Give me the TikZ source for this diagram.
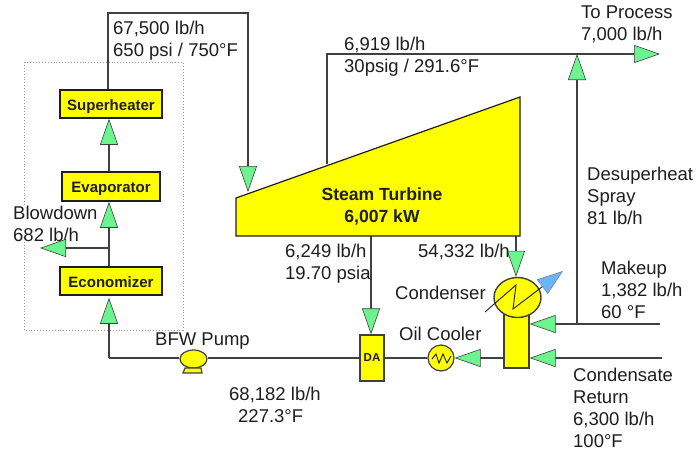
\documentclass[tikz,border=0pt]{standalone}
\usepackage{fontspec}
\setmainfont{Liberation Sans}
\usetikzlibrary{arrows.meta,calc,shapes.geometric}
\definecolor{pipe}{HTML}{404040}
\definecolor{ink}{HTML}{1E1E1E}
\definecolor{tipgreen}{HTML}{6CF58E}
\definecolor{tipblue}{HTML}{6AB4FA}
\definecolor{equip}{HTML}{FFFF00}
\tikzset{
  pipeline/.style={draw=pipe,line width=1.4pt,-{Triangle[length=26pt,width=18pt,fill=tipgreen,line width=0.6pt]}},
  plainpipe/.style={draw=pipe,line width=1.4pt},
  boxed/.style={draw=ink,fill=equip,line width=1.6pt,inner sep=0pt,text=ink,text height=13pt,text depth=0.2pt,font=\fontsize{15}{18}\selectfont\bfseries},
  vessel/.style={draw=pipe,fill=equip,line width=1.2pt,inner sep=0pt},
  lab/.style={anchor=west,inner sep=0pt,align=left,text=ink,font=\fontsize{18.5}{22}\selectfont},
  blab/.style={inner sep=0pt,align=center,text=ink,font=\fontsize{17.6}{22}\selectfont\bfseries},
}
\begin{document}
\begin{tikzpicture}[x=1pt,y=-1pt]
\useasboundingbox (0,0) rectangle (698,453);
% boiler envelope
\draw[gray!80,line width=0.9pt,dotted] (24,62) rectangle (183,330);
\node[lab,fill=white] (blow) at (13,224) {Blowdown\\682 lb/h};
% waypoints
\coordinate (col) at (109,0);
\coordinate (hp1) at (108,13);
\coordinate (hp2) at (248,13);
\coordinate (hpin) at (248,192);
\coordinate (bdj) at (109,248);
\coordinate (bdout) at (40,248);
\coordinate (feed) at (109,358);
\coordinate (exto) at (327,164);
\coordinate (ext1) at (327,54);
\coordinate (procout) at (660,54);
\coordinate (sprayj) at (577,54);
\coordinate (makej) at (577,324);
\coordinate (makein) at (660,324);
\coordinate (retin) at (662,358);
\coordinate (tb1) at (236,198);
\coordinate (tb2) at (520,97);
\coordinate (tb3) at (520,236);
\coordinate (tb4) at (236,236);
\coordinate (daflow) at (371,236);
\coordinate (cflow) at (516,236);
% equipment nodes
\node[boxed,minimum width=102pt,minimum height=28pt] (sup) at (111,104) {Superheater};
\node[boxed,minimum width=98pt,minimum height=29pt] (eva) at (111,186.5) {Evaporator};
\node[boxed,minimum width=102pt,minimum height=28pt] (eco) at (111,281) {Economizer};
\node[vessel,minimum width=24pt,minimum height=46pt,font=\fontsize{11.5}{13}\selectfont\bfseries,text=ink] (da) at (372,358) {DA};
\node[vessel,circle,minimum size=26pt] (oil) at (441,358) {};
\node[vessel,minimum width=25pt,minimum height=56pt] (col2) at (516.5,340) {};
\node[vessel,ellipse,minimum width=47pt,minimum height=40pt,line width=1.4pt] (cond) at (517.5,297.5) {};
\node[vessel,ellipse,minimum width=27pt,minimum height=18pt] (pump) at (193.5,359) {};
% pump foot
\draw[vessel] (185,368) -- (201,368) -- (202,373) -- (183,373) -- cycle;
% connectors
\draw[plainpipe] (sup.north -| hp1) -- (hp1) -- (hp2) -- (248,150);
\draw[pipeline] (248,150) -- (hpin);
\draw[pipeline] (eva.north -| col) -- (sup.south -| col);
\draw[pipeline] (eco.north -| col) -- (eva.south -| col);
\draw[pipeline] (bdj) -- (bdout);
\draw[plainpipe] (pump.west |- feed) -- (feed);
\draw[pipeline,shorten >=2pt] (feed) -- (eco.south -| col);
\draw[plainpipe] (da.west |- feed) -- (pump.east |- feed);
\draw[plainpipe] (oil.west) -- (da.east);
\draw[pipeline] (col2.west |- oil) -- (oil.east);
\draw[plainpipe] (exto) -- (ext1) -- (sprayj);
\draw[pipeline] (sprayj) -- (procout);
\draw[pipeline] (makej) -- (sprayj);
\draw[pipeline] (makein) -- (col2.east |- makein);
\draw[pipeline] (retin) -- (col2.east |- retin);
\draw[pipeline] (daflow) -- (da.north -| daflow);
\draw[pipeline] (cflow) -- (cond.north -| cflow);
% turbine
\path[draw=ink,fill=equip,line width=1.2pt] (tb1) -- (tb2) -- (tb3) -- (tb4) -- cycle;
\node[blab] (turb) at (382,206) {Steam Turbine\\6,007 kW};
% oil-cooler coil
\draw[ink,line width=0.9pt] (432,359) -- (436,354) -- (439,363) -- (443,354) -- (447,363) -- (451,356);
% condenser coil with coolant arrow
\draw[ink,line width=0.9pt,-{Triangle[length=26pt,width=18pt,fill=tipblue,color=gray,line width=0.5pt]}]
  (485,312) -- (516,285) -- (513,309) -- (563,271);
% labels
\node[lab] (l1) at (113,41) {67,500 lb/h\\650 psi / 750°F};
\node[lab] (l2) at (344,57) {6,919 lb/h\\30psig / 291.6°F};
\node[lab] (l3) at (581,24) {To Process\\7,000 lb/h};
\node[lab] (l4) at (587,196) {Desuperheat\\Spray\\81 lb/h};
\node[lab] (l5) at (601,290) {Makeup\\1,382 lb/h\\60 °F};
\node[lab] (l6) at (573,408) {Condensate\\Return\\6,300 lb/h\\100°F};
\node[lab] (l7) at (285,264) {6,249 lb/h\\19.70 psia};
\node[lab] (l8) at (418,252) {54,332 lb/h};
\node[lab] (l9) at (395,293) {Condenser};
\node[lab] (l10) at (399,334) {Oil Cooler};
\node[lab] (l11) at (155,341) {BFW Pump};
\node[lab] (l12) at (229,405) {68,182 lb/h\\\hspace*{9pt}227.3°F};
\end{tikzpicture}
\end{document}
